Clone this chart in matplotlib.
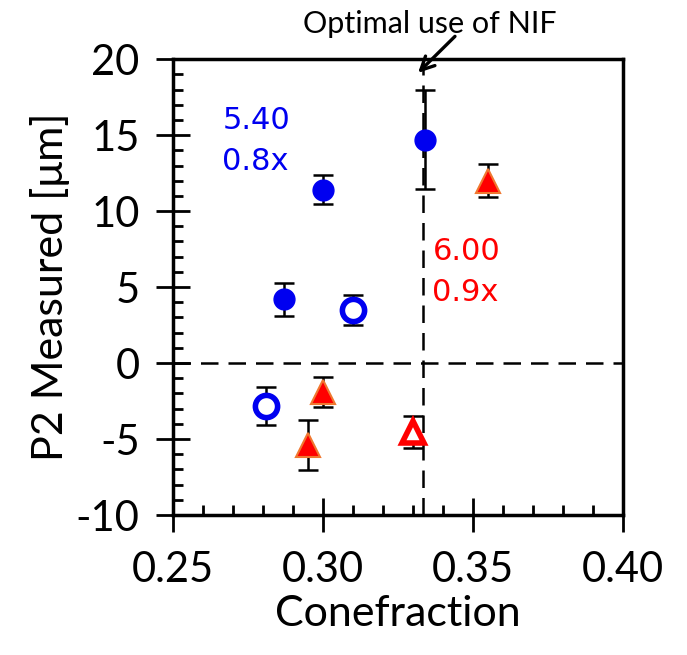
import matplotlib.pyplot as plt
from matplotlib.ticker import MultipleLocator, FuncFormatter

plt.rcParams['font.family'] = ['Lato', 'DejaVu Sans']

# shots: cone fraction vs measured P2, with error bars
blue_fill_x = [0.287, 0.300, 0.334]
blue_fill_y = [4.2, 11.4, 14.7]
blue_fill_err = [1.1, 0.95, 3.25]

blue_open_x = [0.310, 0.281]
blue_open_y = [3.5, -2.8]
blue_open_err = [1.0, 1.25]

red_fill_x = [0.355, 0.300, 0.295]
red_fill_y = [12.0, -1.9, -5.4]
red_fill_err = [1.1, 1.0, 1.65]

red_open_x = [0.330]
red_open_y = [-4.55]
red_open_err = [1.05]

optimal_cf = 1 / 3

fig = plt.figure(figsize=(6.87, 6.55), dpi=100)
ax = fig.add_axes([0.2518, 0.2137, 0.655, 0.696])

ax.axhline(0, color='black', lw=1.8, ls=(0, (7, 4)), zorder=1)
ax.axvline(optimal_cf, color='black', lw=1.8, ls=(0, (7, 4)), zorder=1)

eb = dict(fmt='none', ecolor='black', elinewidth=1.8, capsize=7, capthick=1.8, zorder=2)
ax.errorbar(blue_fill_x, blue_fill_y, yerr=blue_fill_err, **eb)
ax.errorbar(blue_open_x, blue_open_y, yerr=blue_open_err, **eb)
ax.errorbar(red_fill_x, red_fill_y, yerr=red_fill_err, **eb)
ax.errorbar(red_open_x, red_open_y, yerr=red_open_err, **eb)

ax.plot(blue_fill_x, blue_fill_y, 'o', ms=15, color='#0000f0', mec='#0000f0', zorder=3)
ax.plot(blue_open_x, blue_open_y, 'o', ms=16, mfc='white', mec='#0000f0', mew=4, zorder=3)
ax.plot(red_fill_x, red_fill_y, '^', ms=17, color='#ff0000', mec='#f07830', mew=1.5, zorder=3)
ax.plot(red_open_x, red_open_y, '^', ms=16, mfc='white', mec='#ff0000', mew=4, zorder=3)

ax.text(0.2665, 14.6, '5.40\n0.8x', color='#0000f0', fontsize=22,
        family=['DejaVu Sans'], linespacing=1.5, va='center', ha='left')
ax.text(0.3365, 6.0, '6.00\n0.9x', color='#ff0000', fontsize=22,
        family=['DejaVu Sans'], linespacing=1.5, va='center', ha='left')

ax.text(0.3357, 22.3, 'Optimal use of NIF', fontsize=22, ha='center', va='center',
        clip_on=False)
ax.annotate('', xy=(0.3317, 19.1), xytext=(0.344, 21.5), annotation_clip=False,
            arrowprops=dict(arrowstyle='->', lw=2.4, color='black',
                            shrinkA=0, shrinkB=0, mutation_scale=24))

ax.set_xlim(0.25, 0.40)
ax.set_ylim(-10, 20)
ax.xaxis.set_major_locator(MultipleLocator(0.05))
ax.xaxis.set_minor_locator(MultipleLocator(0.01))
ax.yaxis.set_major_locator(MultipleLocator(5))
ax.yaxis.set_minor_locator(MultipleLocator(1))
ax.xaxis.set_major_formatter(FuncFormatter(lambda v, p: f'{v:.2f}'))
ax.yaxis.set_major_formatter(FuncFormatter(lambda v, p: f'{v:.0f}'.replace('\u2212', '-')))

ax.tick_params(which='major', direction='inout', length=24, width=2, labelsize=30)
ax.tick_params(axis='y', which='major', pad=12)
ax.tick_params(axis='x', which='major', pad=14)
ax.tick_params(which='minor', direction='in', length=7, width=2)
ax.tick_params(top=False, right=False, which='both')
for s in ax.spines.values():
    s.set_linewidth(2.5)

ax.set_xlabel('Conefraction', fontsize=31, labelpad=4)
ax.set_ylabel('P2 Measured [μm]', fontsize=31, labelpad=4)

fig.savefig('out.png', dpi=100)
